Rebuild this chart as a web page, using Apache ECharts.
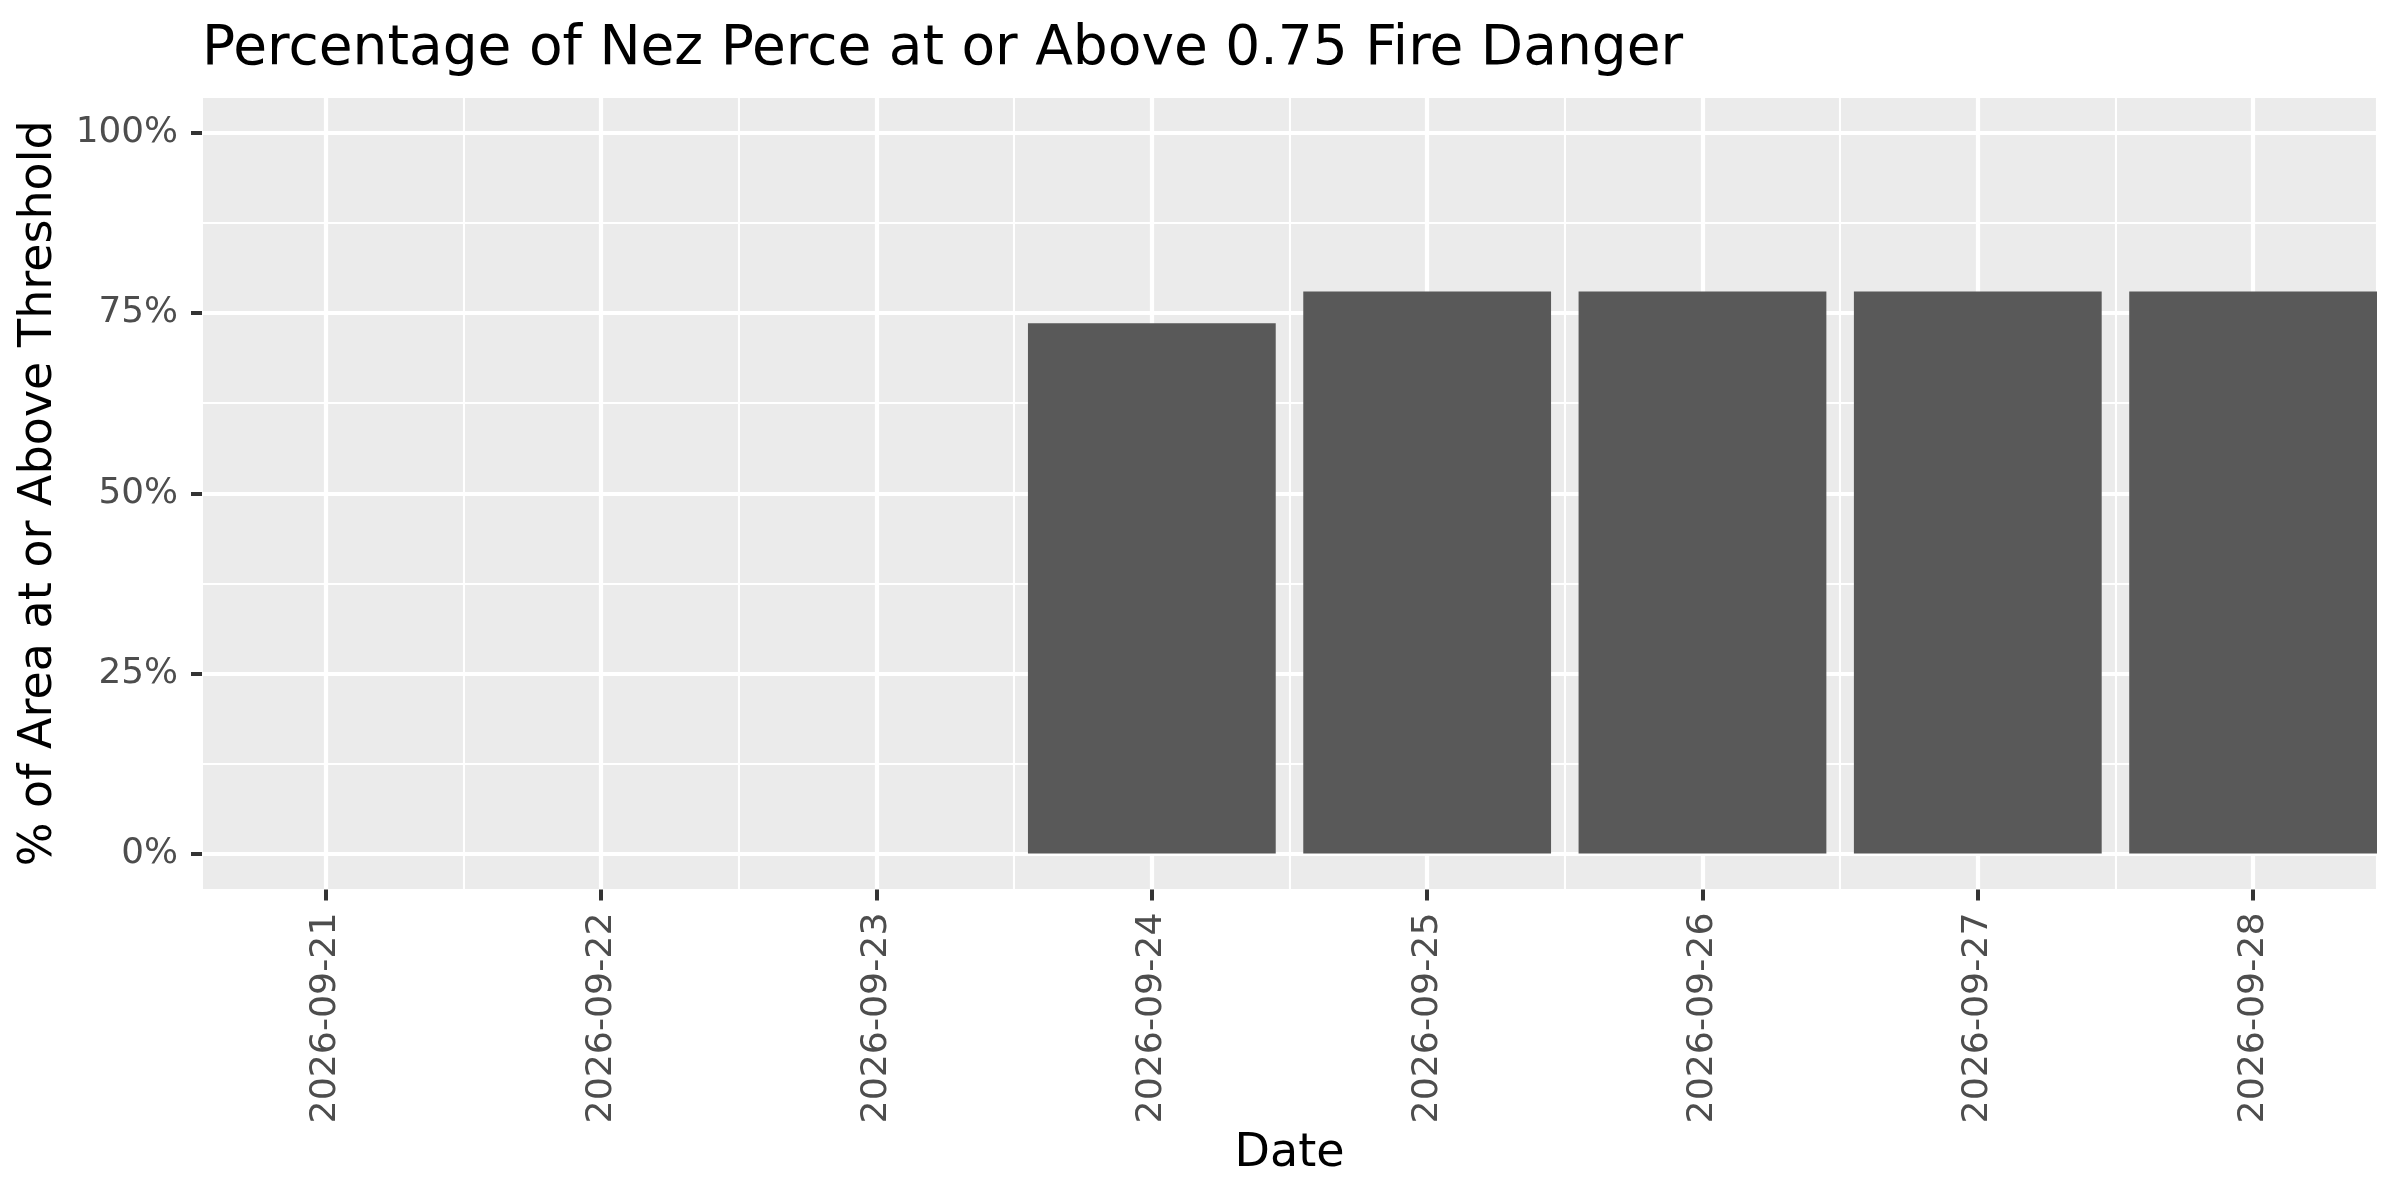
<!DOCTYPE html>
<html>
<head>
<meta charset="utf-8">
<script src="https://cdn.jsdelivr.net/npm/echarts@6/dist/echarts.min.js"></script>
<style>
html,body{margin:0;padding:0;background:#fff;}
#chart{width:2400px;height:1200px;}
</style>
</head>
<body>
<div id="chart"></div>
<script>
const categories = ['2026-09-21','2026-09-22','2026-09-23','2026-09-24','2026-09-25','2026-09-26','2026-09-27','2026-09-28'];
const percentValues = [0, 0, 0, 73.6, 78.0, 78.0, 78.0, 78.0];
const yTickValues = [0, 25, 50, 75, 100];
const yTickLabels = ['0%', '25%', '50%', '75%', '100%'];

const FONT = 'DejaVu Sans';
const xIdx = categories.map((c, i) => i);
const barData = percentValues.map((v, i) => [i, v]);

const chart = echarts.init(document.getElementById('chart'), null, {renderer: 'canvas'});
chart.setOption({
  animation: false,
  backgroundColor: '#ffffff',
  title: {
    text: 'Percentage of Nez Perce at or Above 0.75 Fire Danger',
    left: 197, top: 17,
    textStyle: {fontFamily: FONT, fontSize: 55, fontWeight: 'normal', color: '#000000'}
  },
  grid: {
    left: 202, right: 23, top: 97, bottom: 310.5,
    show: true, backgroundColor: '#EBEBEB', borderWidth: 0,
    containLabel: false
  },
  xAxis: [
    {
      type: 'value', min: -0.45, max: 7.45, minInterval: 1, maxInterval: 1,
      name: 'Date', nameLocation: 'middle', nameGap: 240,
      nameTextStyle: {fontFamily: FONT, fontSize: 46, color: '#000000'},
      axisLine: {show: false, onZero: false},
      axisTick: {show: true, length: 11, customValues: xIdx, lineStyle: {color: '#333333', width: 4}},
      axisLabel: {
        show: true, rotate: 90, margin: 23, customValues: xIdx,
        fontFamily: FONT, fontSize: 36.3, color: '#4D4D4D',
        formatter: v => categories[Math.round(v)] || ''
      },
      splitLine: {show: true, lineStyle: {color: '#ffffff', width: 4.2}}
    },
    {
      type: 'value', min: -0.45, max: 7.45, minInterval: 0.5, maxInterval: 0.5,
      axisLine: {show: false, onZero: false}, axisTick: {show: false}, axisLabel: {show: false},
      splitLine: {show: true, lineStyle: {color: '#ffffff', width: 2.1}}
    }
  ],
  yAxis: [
    {
      type: 'value', min: -5, max: 105, minInterval: 25, maxInterval: 25,
      name: '% of Area at or Above Threshold', nameLocation: 'middle', nameGap: 140,
      nameTextStyle: {fontFamily: FONT, fontSize: 46, color: '#000000'},
      axisLine: {show: false, onZero: false},
      axisTick: {show: true, length: 11, customValues: yTickValues, lineStyle: {color: '#333333', width: 4}},
      axisLabel: {
        show: true, margin: 24, customValues: yTickValues,
        fontFamily: FONT, fontSize: 35.8, color: '#4D4D4D',
        formatter: v => { const k = yTickValues.indexOf(Math.round(v)); return k >= 0 ? yTickLabels[k] : ''; }
      },
      splitLine: {show: true, lineStyle: {color: '#ffffff', width: 4.2}}
    },
    {
      type: 'value', min: -5, max: 105, minInterval: 12.5, maxInterval: 12.5,
      axisLine: {show: false, onZero: false}, axisTick: {show: false}, axisLabel: {show: false},
      splitLine: {show: true, lineStyle: {color: '#ffffff', width: 2.1}}
    }
  ],
  series: [{
    type: 'bar',
    xAxisIndex: 0, yAxisIndex: 0,
    data: barData,
    barWidth: '90%',
    itemStyle: {color: '#595959'},
    z: 5
  }]
});
</script>
</body>
</html>
